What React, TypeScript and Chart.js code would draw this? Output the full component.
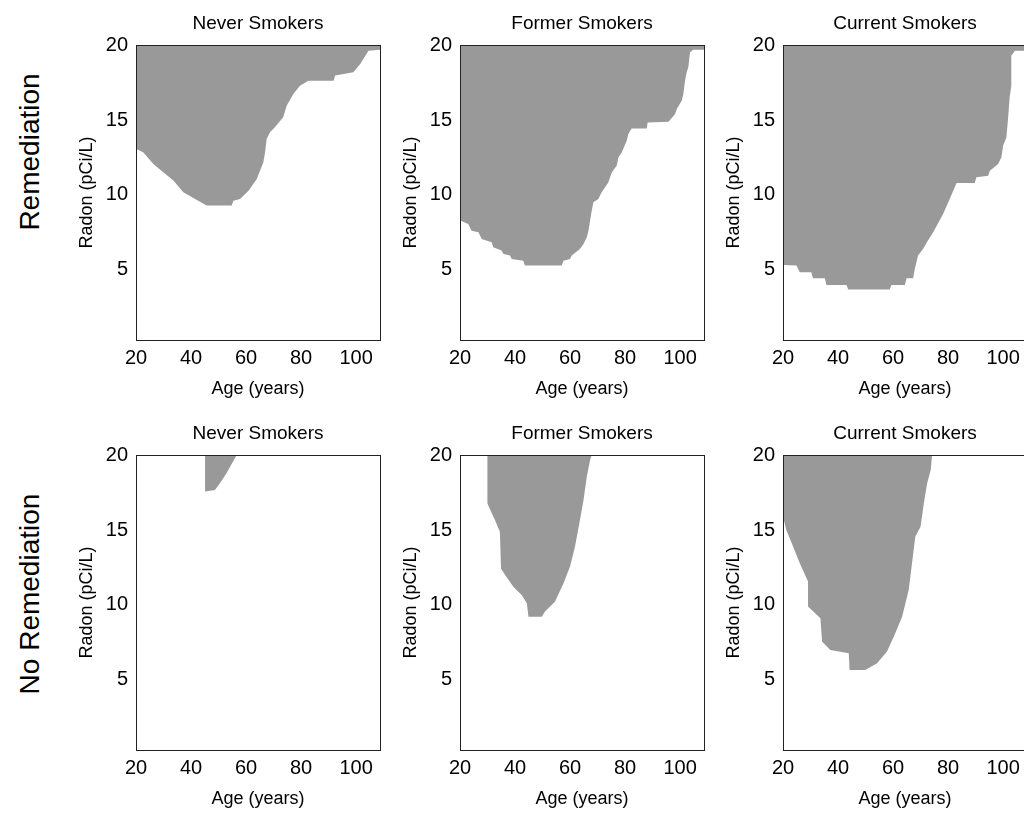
import React, { useEffect, useRef } from "react";
import { Chart, registerables } from "chart.js";

Chart.register(...registerables);

// ---------- axes ----------
const xTicks = [20, 40, 60, 80, 100];
const yTicks = [5, 10, 15, 20];
const X_MIN = 20;
const X_MAX = 108.7;
const Y_MIN = 0.33;
const Y_MAX = 20;

const rowLabels = ["Remediation", "No Remediation"];
const colTitles = ["Never Smokers", "Former Smokers", "Current Smokers"];
const xTitle = "Age (years)";
const yTitle = "Radon (pCi/L)";

// ---------- boundaries (radon threshold by age, shaded above) ----------
// Remediation – Never Smokers
const remNeverAge = [20, 20.2, 22.7, 26.3, 29.9, 33.6, 37.2, 41.5, 45.7, 54.8, 55.4, 57.8, 60.9, 63.9, 66.3, 66.9, 67.5, 68.7, 70.5, 73.5, 74.8, 77.2, 79.6, 82.7, 91.8, 92.4, 99.0, 101.5, 104.5, 108.7];
const remNeverRadon = [13.1, 13.07, 12.84, 12.07, 11.51, 10.96, 10.18, 9.73, 9.29, 9.29, 9.62, 9.73, 10.29, 11.07, 12.18, 12.84, 13.73, 14.18, 14.51, 15.18, 15.96, 16.73, 17.29, 17.62, 17.62, 17.96, 18.18, 18.73, 19.62, 19.69];

// Remediation – Former Smokers
const remFormerAge = [20, 23.0, 24.2, 26.7, 27.9, 31.5, 32.1, 35.1, 35.8, 38.2, 38.8, 43.0, 43.6, 57.0, 57.6, 60.0, 60.6, 63.6, 64.9, 66.1, 66.7, 67.3, 67.9, 68.5, 70.3, 71.5, 73.9, 75.2, 77.0, 77.6, 78.8, 80.6, 81.2, 82.4, 87.9, 88.2, 95.8, 98.2, 98.8, 100.6, 101.2, 101.8, 102.4, 103.0, 103.6, 104.8, 108.7];
const remFormerRadon = [8.29, 8.07, 7.62, 7.51, 7.07, 6.84, 6.51, 6.29, 6.07, 5.96, 5.73, 5.62, 5.29, 5.29, 5.62, 5.73, 5.96, 6.4, 6.73, 7.18, 7.62, 8.29, 8.96, 9.51, 9.73, 10.18, 10.84, 11.51, 11.96, 12.51, 12.84, 13.62, 14.07, 14.44, 14.44, 14.84, 14.89, 15.4, 15.73, 16.29, 16.73, 17.62, 18.18, 18.51, 19.51, 19.69, 19.69];

// Remediation – Current Smokers
const remCurrentAge = [20, 24.9, 26.1, 30.3, 30.9, 35.2, 35.8, 43.1, 43.7, 58.8, 59.4, 64.3, 64.9, 67.3, 67.9, 69.1, 70.9, 72.7, 74.6, 78.2, 80.6, 83.1, 89.7, 90.3, 94.6, 95.2, 98.2, 99.4, 100.0, 101.2, 101.8, 102.4, 103.0, 103.0, 104.3, 108.7];
const remCurrentRadon = [5.33, 5.29, 4.84, 4.84, 4.44, 4.44, 4.0, 4.0, 3.69, 3.69, 4.0, 4.0, 4.44, 4.44, 5.07, 5.96, 6.4, 6.96, 7.51, 8.73, 9.73, 10.8, 10.8, 11.18, 11.29, 11.62, 12.07, 12.51, 13.29, 13.84, 15.07, 16.51, 17.29, 19.29, 19.62, 19.62];

// No Remediation – Never Smokers
const noRemNeverAge = [45.1, 45.1, 48.7, 50.5, 52.9, 56.6];
const noRemNeverRadon = [20, 17.56, 17.67, 18.11, 18.78, 20];

// No Remediation – Former Smokers
const noRemFormerAge = [29.9, 29.9, 32.7, 34.5, 34.9, 36.4, 39.4, 42.4, 44.3, 44.9, 49.7, 50.9, 54.5, 57.6, 60.0, 61.8, 63.6, 64.9, 66.1, 67.3, 67.9];
const noRemFormerRadon = [20, 16.78, 15.67, 14.89, 12.44, 12.0, 11.22, 10.67, 10.11, 9.22, 9.22, 9.56, 10.22, 11.44, 12.56, 13.89, 15.67, 17.0, 18.56, 19.67, 20];

// No Remediation – Current Smokers
const noRemCurrentAge = [20, 20, 21.2, 23.7, 26.1, 29.1, 29.1, 33.6, 34.2, 37.2, 43.9, 44.2, 49.9, 54.2, 57.8, 60.3, 63.3, 65.7, 66.9, 68.1, 70.0, 71.2, 72.4, 73.7, 74.2];
const noRemCurrentRadon = [20, 15.89, 15.0, 13.89, 12.78, 11.56, 9.89, 9.11, 7.56, 7.0, 6.78, 5.67, 5.67, 6.11, 6.89, 7.89, 9.22, 11.0, 12.78, 14.56, 15.22, 16.78, 18.11, 19.0, 20];

const panelSeries = [
  [
    [remNeverAge, remNeverRadon],
    [remFormerAge, remFormerRadon],
    [remCurrentAge, remCurrentRadon],
  ],
  [
    [noRemNeverAge, noRemNeverRadon],
    [noRemFormerAge, noRemFormerRadon],
    [noRemCurrentAge, noRemCurrentRadon],
  ],
];

// ---------- layout ----------
const FONT = "'Liberation Sans', Arial, Helvetica, sans-serif";
const GRAY = "#999999";
const colLefts = [136, 460, 783];
const rowTops = [45, 455];
const PW = 244;
const PH = 295;
const L = 70;
const T = 40;
const R = 14;
const B = 60;

const framePlugin = {
  id: "frame",
  afterDatasetsDraw(chart: any) {
    const { ctx, chartArea } = chart;
    ctx.save();
    ctx.strokeStyle = "#222222";
    ctx.lineWidth = 1;
    ctx.strokeRect(
      Math.round(chartArea.left) + 0.5,
      Math.round(chartArea.top) + 0.5,
      Math.round(chartArea.right - chartArea.left),
      Math.round(chartArea.bottom - chartArea.top)
    );
    ctx.restore();
  },
};

function Panel({ left, top, title, ages, radon }: any) {
  const ref = useRef<HTMLCanvasElement>(null);
  useEffect(() => {
    const points = ages.map((a: number, i: number) => ({ x: a, y: radon[i] }));
    const chart = new Chart(ref.current as HTMLCanvasElement, {
      type: "line",
      data: {
        datasets: [
          {
            data: points,
            borderWidth: 0,
            borderColor: "rgba(0,0,0,0)",
            backgroundColor: GRAY,
            fill: "end",
            pointRadius: 0,
            tension: 0,
          } as any,
        ],
      },
      options: {
        animation: false,
        responsive: false,
        events: [],
        layout: { padding: { left: 0, top: 0, right: R, bottom: 0 } },
        plugins: {
          legend: { display: false },
          tooltip: { enabled: false },
          title: {
            display: true,
            text: title,
            fullSize: false,
            color: "#000",
            font: { family: FONT, size: 19, weight: "normal" },
            padding: { top: 7, bottom: 10.2 },
          } as any,
        },
        scales: {
          x: {
            type: "linear",
            min: X_MIN,
            max: X_MAX,
            grid: { display: false, drawTicks: false },
            border: { display: false },
            afterBuildTicks: (s: any) => {
              s.ticks = xTicks.map((v) => ({ value: v }));
            },
            afterFit: (s: any) => {
              s.height = B;
            },
            ticks: {
              color: "#000",
              font: { family: FONT, size: 20 },
              padding: 6.5,
              maxRotation: 0,
              autoSkip: false,
            },
            title: {
              display: true,
              text: xTitle,
              color: "#000",
              font: { family: FONT, size: 18 },
              padding: { top: 0, bottom: 0.5 },
            },
          } as any,
          y: {
            type: "linear",
            min: Y_MIN,
            max: Y_MAX,
            grid: { display: false, drawTicks: false },
            border: { display: false },
            afterBuildTicks: (s: any) => {
              s.ticks = yTicks.map((v) => ({ value: v }));
            },
            afterFit: (s: any) => {
              s.width = L;
            },
            ticks: {
              color: "#000",
              font: { family: FONT, size: 20 },
              padding: 8,
              autoSkip: false,
            },
            title: {
              display: true,
              text: yTitle,
              color: "#000",
              font: { family: FONT, size: 18 },
              padding: { top: 10.2, bottom: 0 },
            },
          } as any,
        },
      },
      plugins: [framePlugin],
    });
    return () => chart.destroy();
  }, []);
  const w = L + PW + R;
  const h = T + PH + B;
  return (
    <div style={{ position: "absolute", left: left - L, top: top - T, width: w, height: h }}>
      <canvas ref={ref} width={w} height={h} style={{ width: w, height: h, display: "block" }} />
    </div>
  );
}

export default function App() {
  return (
    <div
      style={{
        position: "absolute",
        left: 0,
        top: 0,
        width: 1024,
        height: 813,
        overflow: "hidden",
        background: "#fff",
      }}
    >
      {rowLabels.map((lab, r) => (
        <div
          key={lab}
          style={{
            position: "absolute",
            left: 30,
            top: r === 0 ? 152 : 594,
            transform: "translate(-50%, -50%) rotate(-90deg)",
            fontFamily: FONT,
            fontSize: 28,
            color: "#000",
            whiteSpace: "nowrap",
          }}
        >
          {lab}
        </div>
      ))}
      {rowTops.map((top, r) =>
        colLefts.map((left, c) => (
          <Panel
            key={`${r}-${c}`}
            left={left}
            top={top}
            title={colTitles[c]}
            ages={panelSeries[r][c][0]}
            radon={panelSeries[r][c][1]}
          />
        ))
      )}
    </div>
  );
}
